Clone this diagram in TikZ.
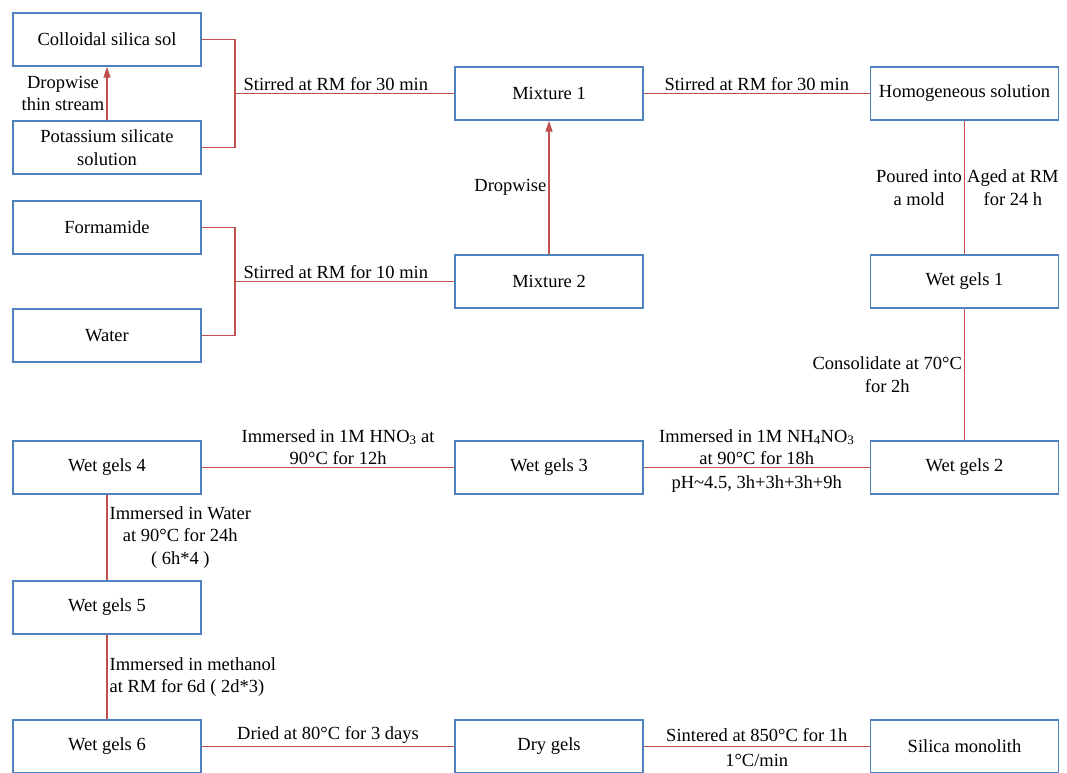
\documentclass[tikz,border=0pt]{standalone}
\usepackage{fontspec}
\setmainfont{Liberation Serif}
\newfontfamily\tnr{Liberation Serif}
\usetikzlibrary{arrows.meta}
\definecolor{boxblue}{HTML}{4F81BD}
\definecolor{linered}{HTML}{C0504D}
\begin{document}
\begin{tikzpicture}[x=1pt,y=-1pt,
  txt/.style={font=\tnr\fontsize{18.5}{22.5}\selectfont},
  box/.style={txt,draw=boxblue,line width=1.4pt,minimum width=188pt,minimum height=53pt,inner sep=0pt,align=center},
  conn/.style={draw=linered,line width=1.3pt},
  arr/.style={conn,-{Triangle[length=11pt,width=7pt]}},
  lbl/.style={txt,inner sep=2pt,align=center},
  lblb/.style={lbl,below,inner sep=8pt}]
\useasboundingbox (0,0) rectangle (1067,772);
% boxes
\node[box] (col) at (107,39.5) {Colloidal silica sol};
\node[box] (pot) at (107,147.5) {Potassium silicate\\solution};
\node[box] (form) at (107,227.5) {Formamide};
\node[box] (water) at (107,335.5) {Water};
\node[box] (mix1) at (549,93.5) {Mixture 1};
\node[box] (mix2) at (549,281.5) {Mixture 2};
\node[box] (homo) at (964.5,93.5) {Homogeneous solution};
\node[box] (wg1) at (964.5,281.5) {Wet gels 1};
\node[box] (wg2) at (964.5,467.5) {Wet gels 2};
\node[box] (wg3) at (549,467.5) {Wet gels 3};
\node[box] (wg4) at (107,467.5) {Wet gels 4};
\node[box] (wg5) at (107,607.5) {Wet gels 5};
\node[box] (wg6) at (107,746.5) {Wet gels 6};
\node[box] (dry) at (549,746.5) {Dry gels};
\node[box] (sil) at (964.5,746.5) {Silica monolith};
% junctions
\coordinate (j1) at (235,93.5);
\coordinate (j2) at (235,281.5);
% connectors
\draw[conn] (col.east) -| (j1) |- (pot.east);
\draw[conn] (j1) -- node[lbl,above,pos=0.46] {Stirred at RM for 30 min} (mix1.west);
\draw[arr] (pot.north) -- node[lbl,left] {Dropwise\\thin stream} (col.south);
\draw[conn] (mix1.east) -- node[lbl,above] {Stirred at RM for 30 min} (homo.west);
\draw[conn] (homo.south) -- node[lbl,left] {Poured into\\a mold} node[lbl,right] {Aged at RM\\for 24 h} (wg1.north);
\draw[conn] (form.east) -| (j2) |- (water.east);
\draw[conn] (j2) -- node[lbl,above,pos=0.46] {Stirred at RM for 10 min} (mix2.west);
\draw[arr] (mix2.north) -- node[lbl,left] {Dropwise} (mix1.south);
\draw[conn] (wg1.south) -- node[lbl,left] {Consolidate at 70°C\\for 2h} (wg2.north);
\draw[conn] (wg2.west) -- node[lbl,above] {Immersed in 1M NH\textsubscript{4}NO\textsubscript{3}\\at 90°C for 18h} node[lblb] {pH\textasciitilde4.5, 3h+3h+3h+9h} (wg3.east);
\draw[conn] (wg3.west) -- node[lbl,above,pos=0.46] {Immersed in 1M HNO\textsubscript{3} at\\90°C for 12h} (wg4.east);
\draw[conn] (wg4.south) -- node[lbl,right] {Immersed in Water\\at 90°C for 24h\\( 6h*4 )} (wg5.north);
\draw[conn] (wg5.south) -- node[lbl,right,align=left] {Immersed in methanol\\at RM for 6d ( 2d*3)} (wg6.north);
\draw[conn] (wg6.east) -- node[lbl,above] {Dried at 80°C for 3 days} (dry.west);
\draw[conn] (dry.east) -- node[lbl,above,inner sep=4pt] {Sintered at 850°C for 1h} node[lblb,inner sep=7pt] {1°C/min} (sil.west);
\end{tikzpicture}
\end{document}
